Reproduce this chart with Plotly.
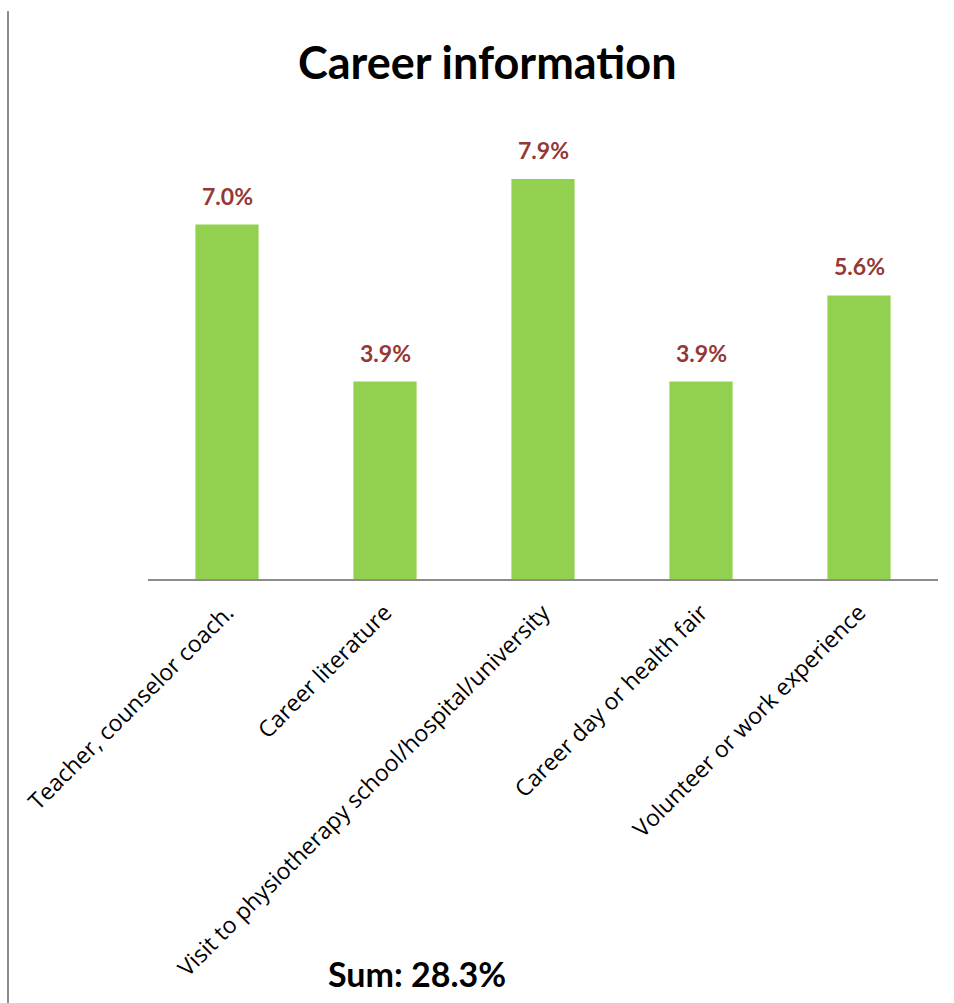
import plotly.graph_objects as go

categories = ["Teacher, counselor coach.", "Career literature",
              "Visit to physiotherapy school/hospital/university",
              "Career day or health fair", "Volunteer or work experience"]
values = [7.0, 3.9, 7.9, 3.9, 5.6]
labels = ["7.0%", "3.9%", "7.9%", "3.9%", "5.6%"]
total_label = "Sum: 28.3%"

W, H = 954, 1003
L, R, T, B = 148, 16, 98, 424
ph = H - T - B
pw = W - L - R

def py(p):
    return (H - B - p) / ph

def px(p):
    return (p - L) / pw

fig = go.Figure(go.Bar(
    x=categories, y=values,
    marker=dict(color="#92D050", line=dict(width=0)),
))

annotations = [
    dict(x=c, y=v, xref="x", yref="y", text="<b>" + t + "</b>", showarrow=False,
         yanchor="bottom", yshift=13, font=dict(family="Lato", size=23, color="#953735"))
    for c, v, t in zip(categories, values, labels)
]
annotations += [
    dict(text="<b>Career information</b>", x=px(487), y=py(62), xref="paper", yref="paper",
         showarrow=False, font=dict(family="Lato", size=45, color="black"),
         xanchor="center", yanchor="middle"),
    dict(text="<b>" + total_label + "</b>", x=px(417), y=py(973), xref="paper", yref="paper",
         showarrow=False, font=dict(family="Lato", size=34, color="black"),
         xanchor="center", yanchor="middle"),
]

fig.update_layout(
    width=W, height=H, margin=dict(l=L, r=R, t=T, b=B, autoexpand=False),
    paper_bgcolor="white", plot_bgcolor="white",
    bargap=0.6, showlegend=False,
    xaxis=dict(showline=True, linecolor="#8c8c8c", linewidth=2, tickangle=-45,
               tickfont=dict(family="Open Sans", size=23, color="black"),
               ticks="", showgrid=False, ticklabelstandoff=9, automargin=False),
    yaxis=dict(range=[0, 9.5], visible=False, showgrid=False, automargin=False),
    annotations=annotations,
    shapes=[dict(type="line", xref="paper", yref="paper", x0=px(8), x1=px(8),
                 y0=py(11), y1=py(1003), line=dict(color="#8c8c8c", width=2))],
)

fig.write_html("out.html")
